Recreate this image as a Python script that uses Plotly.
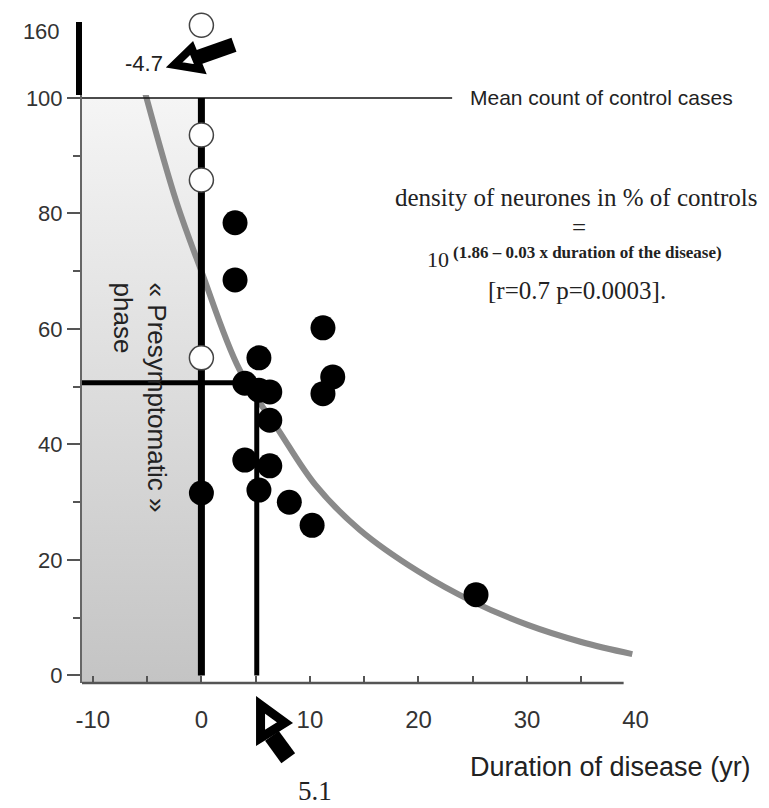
import plotly.graph_objects as go

# ---------------- data ----------------
case_duration = [3.1, 3.1, 5.3, 4.0, 5.3, 6.3, 6.3, 4.0, 6.3, 5.3, 0.0, 8.1, 10.2, 11.2, 12.1, 11.2, 25.3]
case_density = [78.4, 68.5, 55.0, 50.6, 49.4, 49.1, 44.2, 37.3, 36.3, 32.1, 31.6, 30.0, 26.0, 60.2, 51.7, 48.8, 14.0]

control_duration = [0, 0, 0]
control_density = [93.6, 85.8, 55.0]
control_high_duration = [0]
control_high_density = [166]

fit_duration = [-5.2, -2.3, 0, 3.5, 7.1, 10.5, 14.6, 20, 25, 30, 35, 39.7]
fit_density = [101, 82, 70, 53, 42.5, 33, 25.2, 18, 12.8, 8.8, 5.8, 3.7]

x_ticks = [-10, 0, 10, 20, 30, 40]
x_tick_marks = [-10, -5, 0, 5, 10, 15, 20, 25, 30, 35]
y_ticks = [0, 20, 40, 60, 80, 100]
y_minor = [10, 30, 50, 70, 90]
y2_ticks = [160]

control_mean = 100
onset_label = "-4.7"
half_duration = 5.1
half_density = 50.7
x_min, x_max = -11, 40.5
y_min, y_max = -1.3, 100.5
x_axis_end = 38.9
mean_line_end = 23.1

SANS = "Liberation Sans, Arial, sans-serif"
SERIF = "Liberation Serif, Times New Roman, serif"

fig = go.Figure()

# presymptomatic shaded phase
fig.add_trace(go.Scatter(
    x=[x_min, 0, 0, x_min], y=[y_min, y_min, control_mean, control_mean],
    fill="toself", mode="lines", line=dict(width=0),
    fillgradient=dict(type="vertical", colorscale=[[0, "#c4c4c4"], [1, "#f5f5f5"]]),
    hoverinfo="skip", showlegend=False))

# fitted curve
fig.add_trace(go.Scatter(
    x=fit_duration, y=fit_density, mode="lines",
    line=dict(color="#8a8a8a", width=6, shape="spline", smoothing=1.0),
    showlegend=False))

# mean of controls line
fig.add_trace(go.Scatter(
    x=[x_min, mean_line_end], y=[control_mean, control_mean], mode="lines",
    line=dict(color="#111", width=1.5), showlegend=False))

# onset line at 0
fig.add_trace(go.Scatter(
    x=[0, 0], y=[0, control_mean], mode="lines",
    line=dict(color="#000", width=7), showlegend=False))

# 5.1 vertical line and 50% horizontal line
fig.add_trace(go.Scatter(
    x=[half_duration, half_duration], y=[0, half_density], mode="lines",
    line=dict(color="#000", width=5), showlegend=False))
fig.add_trace(go.Scatter(
    x=[x_min, half_duration], y=[half_density, half_density], mode="lines",
    line=dict(color="#000", width=5), showlegend=False))

# cases
fig.add_trace(go.Scatter(
    x=case_duration, y=case_density, mode="markers",
    marker=dict(color="#000", size=25, line=dict(width=0)), showlegend=False))

# controls
fig.add_trace(go.Scatter(
    x=control_duration, y=control_density, mode="markers",
    marker=dict(color="#fff", size=24, line=dict(color="#444", width=1.5)),
    showlegend=False))
fig.add_trace(go.Scatter(
    x=control_high_duration, y=control_high_density, mode="markers",
    xaxis="x", yaxis="y2", cliponaxis=False,
    marker=dict(color="#fff", size=24, line=dict(color="#444", width=1.5)),
    showlegend=False))

# ------------- decorations -------------
shapes = []
# x axis baseline
shapes.append(dict(type="line", xref="x", yref="paper", x0=x_min, x1=x_axis_end, y0=0, y1=0,
                   line=dict(color="#555", width=2.5)))

# bottom arrow pointing at 5.1 (data x, paper y)
tip = half_duration
shapes.append(dict(type="line", xref="x", yref="paper",
                   x0=tip + 1.4, y0=-0.080, x1=tip + 2.9, y1=-0.114,
                   line=dict(color="#000", width=17)))
shapes.append(dict(type="path", xref="x", yref="paper",
                   path=f"M {tip+0.35},-0.033 L {tip+2.6},-0.060 L {tip+0.35},-0.083 Z",
                   fillcolor="#fff", line=dict(color="#000", width=9)))

# top arrow pointing at onset label (data x, y2)
shapes.append(dict(type="line", xref="x", yref="y2",
                   x0=-0.6, y0=134.5, x1=3.0, y1=147.5,
                   line=dict(color="#000", width=15)))
shapes.append(dict(type="path", xref="x", yref="y2",
                   path="M -2.5,128.5 L -0.9,144.5 L -0.1,124.5 Z",
                   fillcolor="#fff", line=dict(color="#000", width=8)))

annotations = [
    dict(x=mean_line_end + 1.5, y=control_mean, xref="x", yref="y", xanchor="left", yanchor="middle",
         text="Mean count of control cases", showarrow=False,
         font=dict(family=SANS, size=21, color="#222")),
    dict(x=34.5, y=82.7, xref="x", yref="y", text="density of neurones in % of controls",
         showarrow=False, font=dict(family=SERIF, size=25, color="#222")),
    dict(x=34.8, y=77.5, xref="x", yref="y", text="=",
         showarrow=False, font=dict(family=SERIF, size=25, color="#222")),
    dict(x=23.0, y=72.0, xref="x", yref="y", xanchor="right", text="10",
         showarrow=False, font=dict(family=SERIF, size=22, color="#222")),
    dict(x=23.0, y=73.2, xref="x", yref="y", xanchor="left",
         text="<b>(1.86 – 0.03 x duration of the disease)</b>",
         showarrow=False, font=dict(family=SERIF, size=17, color="#222")),
    dict(x=34.6, y=66.7, xref="x", yref="y", text="[r=0.7 p=0.0003].",
         showarrow=False, font=dict(family=SERIF, size=25, color="#222")),
    dict(x=-5.3, y=130, xref="x", yref="y2", text=onset_label, showarrow=False,
         font=dict(family=SANS, size=22, color="#222")),
    dict(x=-5.7, y=48.2, xref="x", yref="y", text="« Presymptomatic »<br>phase",
         textangle=90, align="left", showarrow=False,
         font=dict(family=SANS, size=26, color="#222")),
    dict(x=1.2, y=-0.127, xref="paper", yref="paper", xanchor="right", yanchor="middle",
         text="Duration of disease (yr)", showarrow=False,
         font=dict(family=SANS, size=27, color="#222")),
    dict(x=10.5, y=-0.163, xref="x", yref="paper", yanchor="middle", text=str(half_duration),
         showarrow=False, font=dict(family=SERIF, size=27, color="#222")),
]

lower_top = 0.8894
fig.update_layout(
    width=769, height=808,
    margin=dict(l=82, r=128, t=22, b=125),
    paper_bgcolor="#fff", plot_bgcolor="rgba(0,0,0,0)",
    showlegend=False,
    shapes=shapes, annotations=annotations,
    xaxis=dict(range=[x_min, x_max], domain=[0, 1], anchor="y",
               tickvals=x_ticks, ticktext=[str(v) for v in x_ticks],
               ticks="",
               minor=dict(tickvals=x_tick_marks, ticks="inside", ticklen=7, tickwidth=1.5, tickcolor="#555"),
               showline=False, showgrid=False, zeroline=False,
               ticklabelstandoff=20,
               tickfont=dict(family=SANS, size=24, color="#333")),
    yaxis=dict(range=[y_min, y_max], domain=[0, lower_top], anchor="x",
               tickvals=y_ticks, ticks="outside", ticklen=13, tickwidth=1.5, tickcolor="#555",
               minor=dict(tickvals=y_minor, ticks="outside", ticklen=7, tickwidth=1.5, tickcolor="#555"),
               showline=True, linecolor="#666", linewidth=2,
               showgrid=False, zeroline=False,
               tickfont=dict(family=SANS, size=22, color="#333")),
    yaxis2=dict(range=[100, 169], domain=[lower_top, 1], anchor="x",
                tickvals=y2_ticks, ticks="", showline=True, linecolor="#000", linewidth=6,
                showgrid=False, zeroline=False, ticklabelstandoff=12,
                tickfont=dict(family=SANS, size=22, color="#333")),
)

fig.write_html("out.html")
